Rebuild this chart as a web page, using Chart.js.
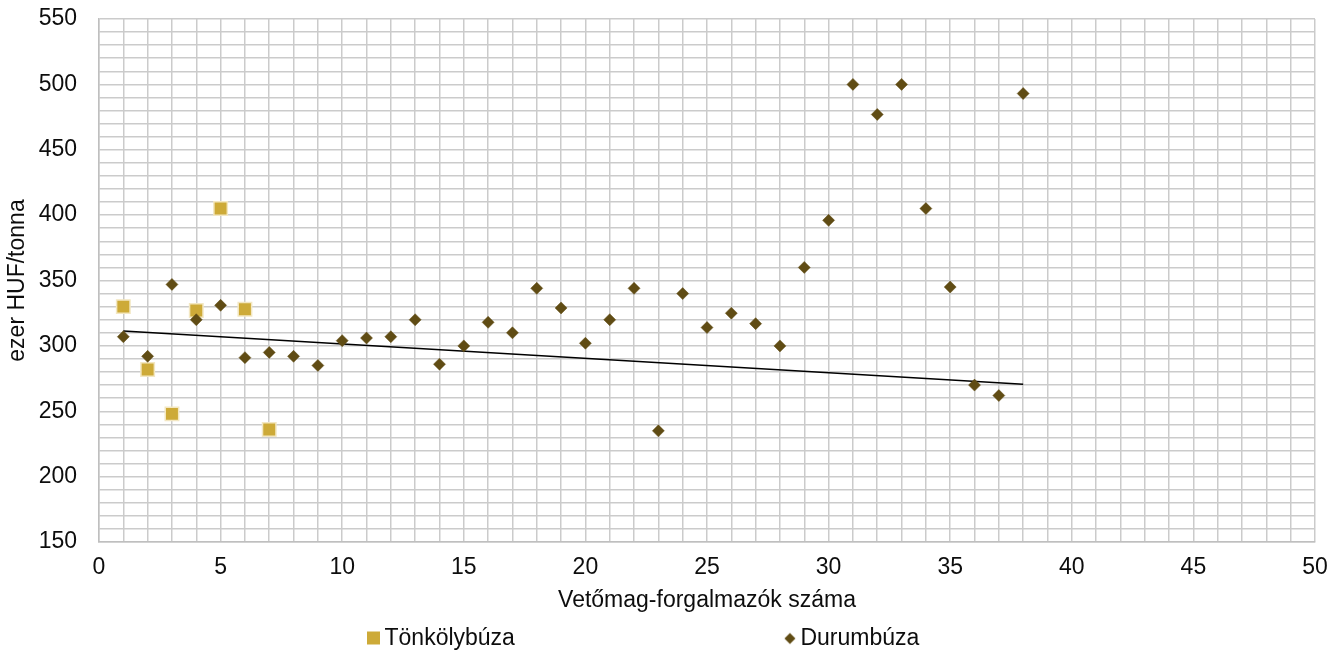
<!DOCTYPE html>
<html>
<head>
<meta charset="utf-8">
<script src="https://cdn.jsdelivr.net/npm/chart.js@4.4.1/dist/chart.umd.min.js"></script>
<style>
html,body{margin:0;padding:0;background:#fff;}
#wrap{width:1344px;height:656px;}
</style>
</head>
<body>
<div id="wrap"><canvas id="priceChart"></canvas></div>
<script>
// DATA

const seriesNames=["Tönkölybúza","Durumbúza"];

const tonkolyX=[1,2,3,4,5,6,7];
const tonkolyY=[330,282,248,327,405,328,236];

const durumX=[1,2,3,4,5,6,7,8,9,10,11,12,13,14,15,16,17,18,19,20,21,22,23,24,25,26,27,28,29,30,31,32,33,34,35,36,37,38];
const durumY=[307,292,347,320,331,291,295,292,285,304,306,307,320,286,300,318,310,344,329,302,320,344,235,340,314,325,317,300,360,396,500,477,500,405,345,270,262,493];

// linear trendline of Durumbúza, end points
const trendX=[1,38];
const trendY=[311.4,270.6];

const xTitle="Vetőmag-forgalmazók száma";
const yTitle="ezer HUF/tonna";

const goldColor="#CDAA38";
const goldBorder="#F3E7C2";
const brownColor="#604C14";
const gridColor="#cbcbcb";

const toPoints=(xs,ys)=>xs.map((x,i)=>({x:x,y:ys[i]}));

// LEGEND ICONS (marker sits at the right end of a wide transparent strip)

const boxW=266;
const iconW=boxW+14;

function legendIcon(kind,color){
const c=document.createElement("canvas");
c.width=iconW;
c.height=24;
const g=c.getContext("2d");
g.fillStyle=color;
if(kind==="square"){
g.fillRect(iconW-13,5,13,13);
}else{
const cx=iconW-6,cy=12,r=5.5;
g.beginPath();
g.moveTo(cx-r,cy);
g.lineTo(cx,cy-r);
g.lineTo(cx+r,cy);
g.lineTo(cx,cy+r);
g.closePath();
g.fill();
}
return c;
}

const legendIcons=[legendIcon("square",goldColor),legendIcon("diamond",brownColor)];

Chart.defaults.font.family="'Liberation Sans', Arial, sans-serif";
Chart.defaults.font.size=23;
Chart.defaults.color="#0d0d0d";

// PRICE CHART

const priceChart=document.getElementById("priceChart");

if(priceChart){

new Chart(priceChart,{

type:"scatter",

data:{

datasets:[{

label:seriesNames[0],

data:toPoints(tonkolyX,tonkolyY),

pointStyle:"rect",
pointRadius:9.5,
pointHoverRadius:9.5,
backgroundColor:goldColor,
borderColor:goldBorder,
borderWidth:1.5,
order:2

},{

label:seriesNames[1],

data:toPoints(durumX,durumY),

pointStyle:"rectRot",
pointRadius:6,
pointHoverRadius:6,
backgroundColor:brownColor,
borderColor:brownColor,
borderWidth:0.5,
order:1

},{

label:"trend",

type:"line",

data:toPoints(trendX,trendY),

borderColor:"#000",
borderWidth:1.5,
pointRadius:0,
fill:false,
order:3

}]

},

options:{

responsive:true,
maintainAspectRatio:false,
animation:false,

layout:{
padding:{top:19,right:29,bottom:-4,left:0}
},

scales:{

x:{
type:"linear",
min:0,
max:50,
grid:{color:gridColor,lineWidth:1.5,drawTicks:false},
border:{color:"#bfbfbf",width:1.5},
ticks:{
stepSize:1,
autoSkip:false,
maxRotation:0,
padding:12,
callback:v=>v%5===0?v:""
},
title:{
display:true,
text:xTitle,
padding:{top:5,bottom:5}
},
afterFit:scale=>{scale.height=77;}
},

y:{
min:150,
max:550,
grid:{color:gridColor,lineWidth:1.5,drawTicks:false},
border:{color:"#bfbfbf",width:1.5},
ticks:{
stepSize:10,
autoSkip:false,
padding:22,
callback:v=>v%50===0?v:""
},
title:{
display:true,
text:yTitle,
padding:{top:4,bottom:0}
},
afterFit:scale=>{
scale.width=99;
scale.paddingTop=0;
scale.paddingBottom=0;
}
}

},

plugins:{

legend:{
position:"bottom",
align:"start",
fullSize:false,
labels:{
usePointStyle:true,
pointStyleWidth:boxW,
padding:8,
generateLabels:chart=>Chart.defaults.plugins.legend.labels.generateLabels(chart)
.filter(item=>item.datasetIndex<2)
.sort((a,b)=>a.datasetIndex-b.datasetIndex)
.map(item=>{item.pointStyle=legendIcons[item.datasetIndex];item.rotation=0;return item;})
}
},

tooltip:{enabled:false}

}

}

});

}
</script>
</body>
</html>
